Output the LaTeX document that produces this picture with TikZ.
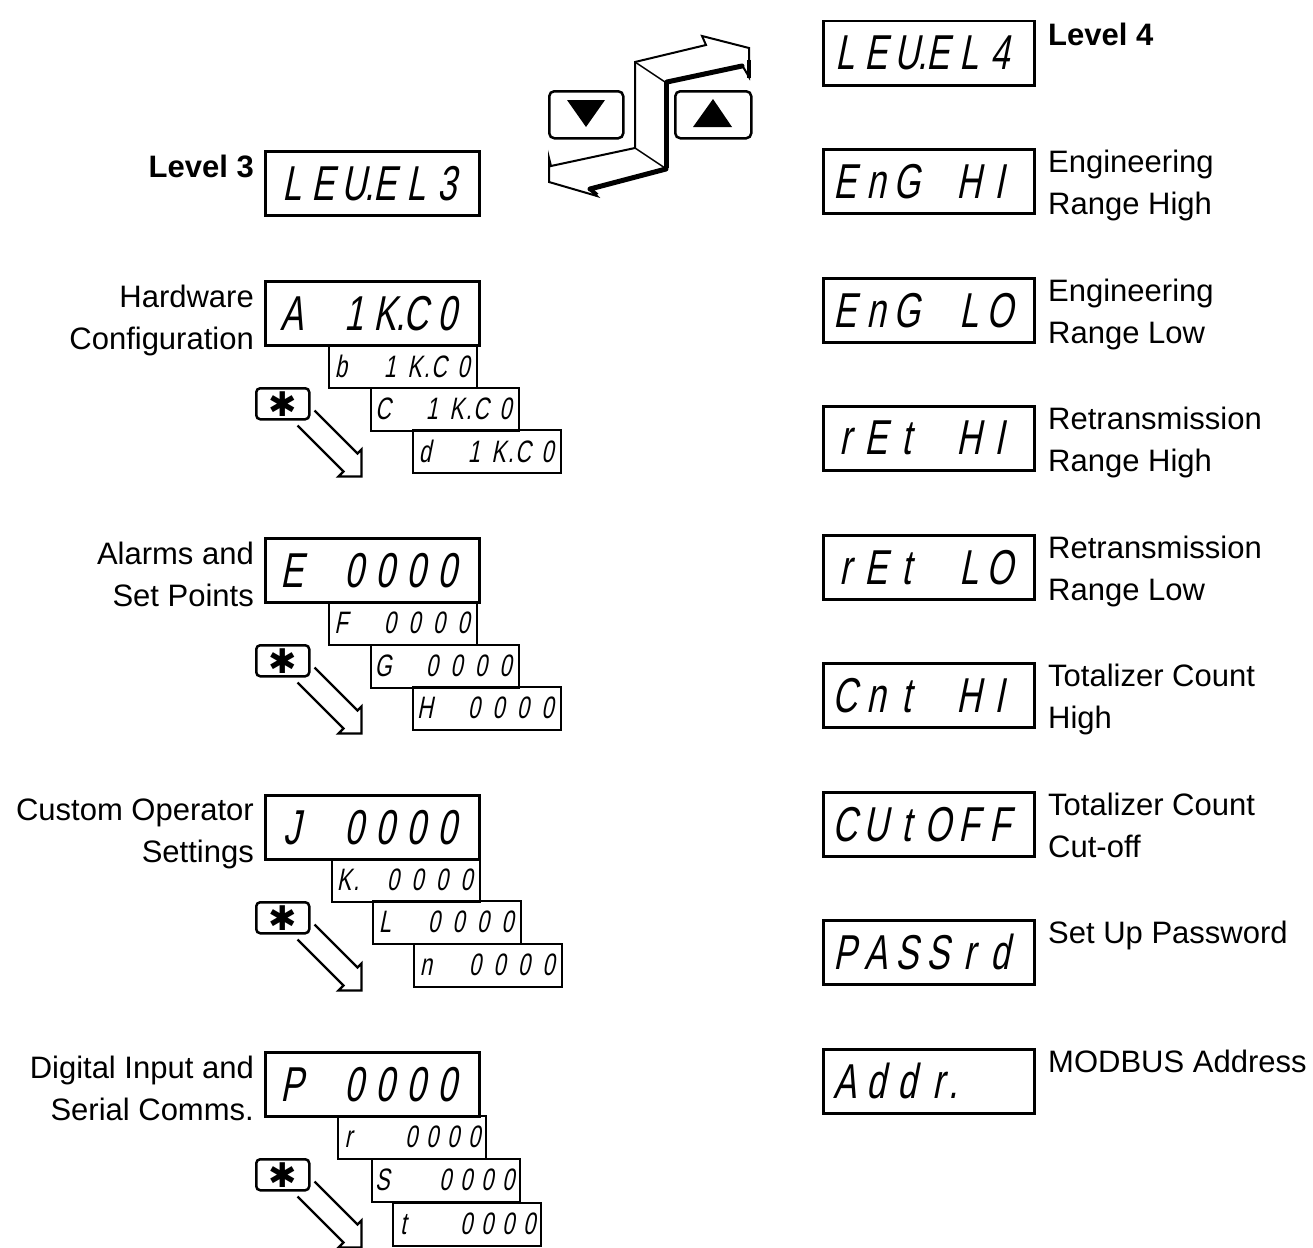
\documentclass[tikz,border=0pt]{standalone}
\usepackage{fontspec}
\setmainfont{Liberation Sans}
\newfontfamily\segfont[FakeSlant=0.2,FakeStretch=0.7]{Liberation Sans}
\newfontfamily\symfont{DejaVu Sans}
\usetikzlibrary{calc}
\newlength\cw
\makeatletter
\def\seg@end{\seg@end}
\def\segs#1{\seg@a#1\seg@end}
\def\seg@a#1{\ifx#1\seg@end\else\seg@b#1\expandafter\seg@a\fi}
\def\seg@b#1{\ifx#1_\hspace*{\cw}\else\ifx#1.\makebox[0pt][c]{.}\else\makebox[\cw][c]{#1}\fi\fi}
\makeatother
\tikzset{
  mainbox/.style={draw, line width=2.5pt, anchor=north west, minimum height=64pt,
    inner ysep=0pt, inner xsep=11pt, text width=192pt, align=left,
    font=\segfont\fontsize{49}{49}\selectfont\setlength\cw{31pt}},
  rbox/.style={mainbox, inner xsep=6pt, text width=199pt},
  sbox/.style={draw, line width=1.5pt, anchor=north west, minimum height=43pt,
    inner ysep=0pt, inner xsep=0pt, text width=148pt, align=left,
    font=\segfont\fontsize{31}{31}\selectfont\setlength\cw{24.5pt}},
  sboxw/.style={sbox, font=\segfont\fontsize{31}{31}\selectfont\setlength\cw{21pt}},
  lab/.style={font=\fontsize{31}{42}\selectfont, inner sep=0pt, align=left, anchor=north west},
  labr/.style={lab, align=right, anchor=north east},
  lvl/.style={font=\bfseries\fontsize{31}{42}\selectfont, inner sep=0pt},
  starbtn/.style={draw, line width=2.5pt, rounded corners=4pt, minimum width=53pt,
    minimum height=31pt, inner sep=0pt, anchor=north west, font=\symfont\fontsize{34}{34}\selectfont},
  keybtn/.style={draw, line width=2.5pt, rounded corners=5pt, minimum width=74pt,
    minimum height=47pt, inner sep=0pt, anchor=north west},
  hollow/.style={line width=2.3pt, line join=miter},
}
\newcommand\stararrow[1]{%
  \draw[hollow] ($(#1.south east)+(4,-10)$) -- ++(43,43) -- ++(4,-4) -- ++(0,27)
    -- ++(-23,0) -- ++(5,-5) -- ($(#1.south east)+(-13,5)$);}
\begin{document}
\begin{tikzpicture}[x=1pt,y=-1pt]
\path[use as bounding box, fill=white] (0,0) rectangle (1313,1247);

% ---- top navigation graphic
\node[keybtn] (kdown) at (548,90) {};
\node[keybtn, minimum width=76pt] (kup) at (674,90) {};
\fill (567,100) -- (605,100) -- (586,127) -- cycle;
\fill (693,127) -- (732,127) -- (713,99) -- cycle;
\draw[line width=2pt, fill=white, line join=miter]
  (635,62) -- (706,45) -- (702,36) -- (749,48) -- (749,77) -- (742,65) -- (665,82)
  -- (665,168) -- (590,189) -- (597,196) -- (549,182) -- (549,158) -- (551,166)
  -- (635,148) -- cycle;
\draw[line width=1.5pt] (635,62) -- (665,82);
\draw[line width=1.5pt] (635,148) -- (665,168);
\draw[line width=5pt, line cap=round] (667,82) -- (742,66);
\draw[line width=5pt] (666,81) -- (666,168);
\draw[line width=5pt, line cap=round] (666,169) -- (590,189);
\draw[line width=4pt] (590,189) -- (597,195);
\draw[line width=4pt] (749,60) -- (749,78);

% ---- Level 3
\node[lvl, anchor=north east] (t3) at (254,155) {Level 3};
\node[mainbox] (b3) at (264,150) {\segs{LEU.EL3}};

% ---- group 1
\node[labr] (l1) at (254,285) {Hardware\\Configuration};
\node[sbox] (b1b) at (328,344) {\segs{b_1K.C0}};
\node[sbox] (b1c) at (370,387) {\segs{C_1K.C0}};
\node[sbox] (b1d) at (412,429) {\segs{d_1K.C0}};
\node[mainbox] (b1a) at (264,280) {\segs{A_1K.C0}};
\node[starbtn] (s1) at (255,387) {✱};
\stararrow{s1}

% ---- group 2
\node[labr] (l2) at (254,542) {Alarms and\\Set Points};
\node[sbox] (b2b) at (328,601) {\segs{F_0000}};
\node[sbox] (b2c) at (370,644) {\segs{G_0000}};
\node[sbox] (b2d) at (412,686) {\segs{H_0000}};
\node[mainbox] (b2a) at (264,537) {\segs{E_0000}};
\node[starbtn] (s2) at (255,644) {✱};
\stararrow{s2}

% ---- group 3
\node[labr] (l3) at (254,799) {Custom Operator\\Settings};
\node[sbox] (b3b) at (331,858) {\segs{K._0000}};
\node[sbox] (b3c) at (372,900) {\segs{L_0000}};
\node[sbox] (b3d) at (413,943) {\segs{n_0000}};
\node[mainbox] (b3a) at (264,794) {\segs{J_0000}};
\node[starbtn] (s3) at (255,901) {✱};
\stararrow{s3}

% ---- group 4
\node[labr] (l4) at (254,1056) {Digital Input and\\Serial Comms.};
\node[sboxw] (b4b) at (337,1115) {\segs{r__0000}};
\node[sboxw] (b4c) at (371,1158) {\segs{S__0000}};
\node[sboxw] (b4d) at (392,1202) {\segs{t__0000}};
\node[mainbox] (b4a) at (264,1051) {\segs{P_0000}};
\node[starbtn] (s4) at (255,1158) {✱};
\stararrow{s4}

% ---- right column (Level 4)
\node[rbox] (r0) at (822,20) {\segs{LEU.EL4}};
\node[lvl, anchor=north west] (t4) at (1048,23) {Level 4};
\node[rbox] (r1) at (822,148) {\segs{EnG_HI}};
\node[lab] (q1) at (1048,150) {Engineering\\Range High};
\node[rbox] (r2) at (822,277) {\segs{EnG_LO}};
\node[lab] (q2) at (1048,279) {Engineering\\Range Low};
\node[rbox] (r3) at (822,405) {\segs{rEt_HI}};
\node[lab] (q3) at (1048,407) {Retransmission\\Range High};
\node[rbox] (r4) at (822,534) {\segs{rEt_LO}};
\node[lab] (q4) at (1048,536) {Retransmission\\Range Low};
\node[rbox] (r5) at (822,662) {\segs{Cnt_HI}};
\node[lab] (q5) at (1048,664) {Totalizer Count\\High};
\node[rbox] (r6) at (822,791) {\segs{CUtOFF}};
\node[lab] (q6) at (1048,793) {Totalizer Count\\Cut-off};
\node[rbox] (r7) at (822,919) {\segs{PASSrd}};
\node[lab] (q7) at (1048,921) {Set Up Password};
\node[rbox] (r8) at (822,1048) {\segs{Addr.}};
\node[lab] (q8) at (1048,1050) {MODBUS Address};
\end{tikzpicture}
\end{document}
